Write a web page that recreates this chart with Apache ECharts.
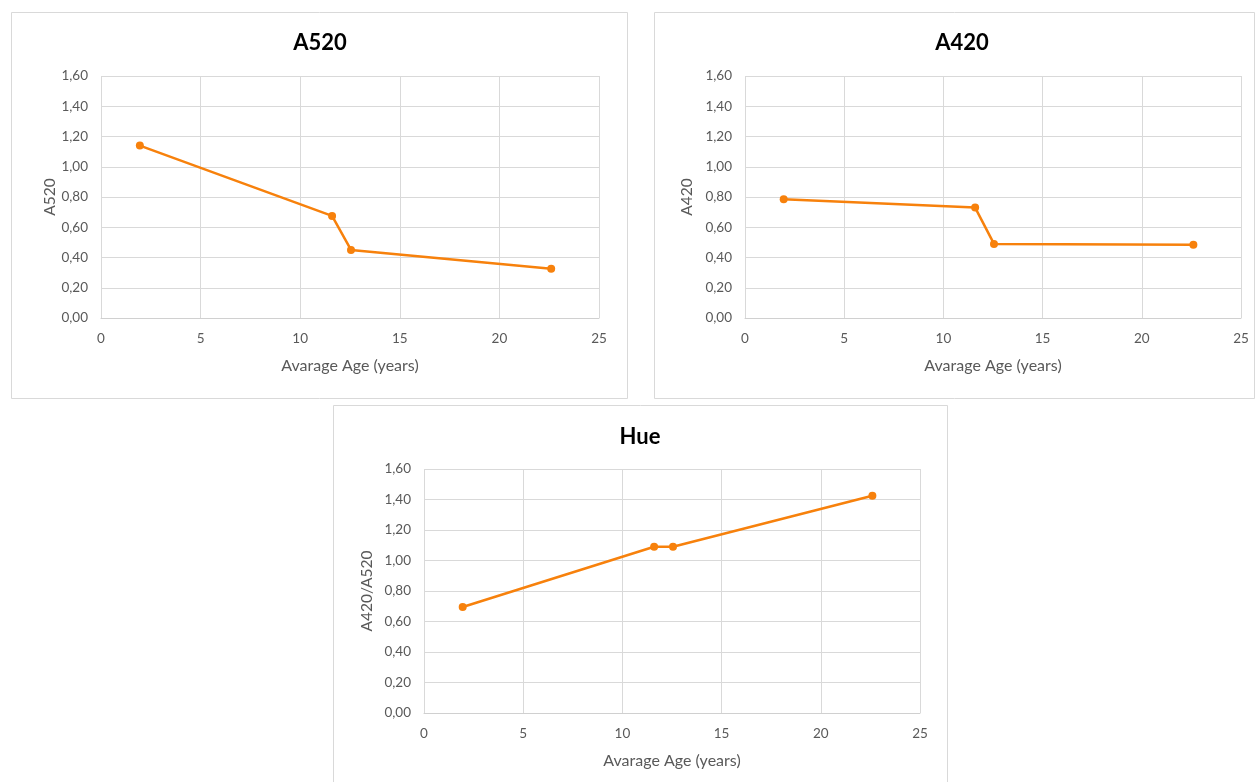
<!DOCTYPE html>
<html>
<head>
<meta charset="utf-8">
<script src="https://cdn.jsdelivr.net/npm/echarts@6/dist/echarts.min.js"></script>
<style>
html,body{margin:0;padding:0;background:#fff;}
#c{width:1256px;height:782px;}
</style>
</head>
<body>
<div id="c"></div>
<script>
// Data
const titles = ['A520', 'A420', 'Hue'];
const yNames = ['A520', 'A420', 'A420/A520'];
const xName = 'Avarage Age (years)';
const ages = [1.95, 11.6, 12.55, 22.6];
const a520 = [1.14, 0.675, 0.45, 0.325];
const a420 = [0.785, 0.73, 0.49, 0.485];
const hue = [0.695, 1.09, 1.09, 1.425];
const seriesValues = [a520, a420, hue];

const orange = '#f7810c';
const grids = [
  {left: 101, top: 76, width: 498, height: 242},
  {left: 745, top: 76, width: 496, height: 242},
  {left: 424, top: 469, width: 496, height: 244}
];
const yNameGaps = [43, 50, 49];
const titlePos = [{x: 315, y: 27}, {x: 957, y: 27}, {x: 635, y: 421}];
const boxes = [
  {x: 11.5, y: 12.5, width: 616, height: 386},
  {x: 654.5, y: 12.5, width: 600, height: 386},
  {x: 333.5, y: 405.5, width: 614, height: 390}
];
const font = 'Lato, "Open Sans", sans-serif';

const option = {
  animation: false,
  backgroundColor: '#fff',
  graphic: boxes.map(b => ({
    type: 'rect', shape: b, silent: true, z: -10,
    style: {fill: '#fff', stroke: '#d9d9d9', lineWidth: 1}
  })),
  title: titles.map((t, i) => ({
    text: t, left: titlePos[i].x, top: titlePos[i].y, textAlign: 'center',
    textStyle: {fontFamily: font, fontSize: 22, fontWeight: 'bold', color: '#000'}
  })),
  grid: grids,
  xAxis: grids.map((g, i) => ({
    type: 'value', gridIndex: i, min: 0, max: 25, interval: 5,
    name: xName, nameLocation: 'middle', nameGap: 40,
    nameTextStyle: {fontFamily: font, fontSize: 16, color: '#595959'},
    axisLine: {show: true, lineStyle: {color: '#d0d0d0', width: 1}},
    axisTick: {show: false},
    axisLabel: {fontFamily: font, fontSize: 13.5, color: '#595959', margin: 14},
    splitLine: {show: true, lineStyle: {color: '#d9d9d9', width: 1}}
  })),
  yAxis: grids.map((g, i) => ({
    type: 'value', gridIndex: i, min: 0, max: 1.6, interval: 0.2,
    name: yNames[i], nameLocation: 'middle', nameGap: yNameGaps[i], nameMoveOverlap: false,
    nameTextStyle: {fontFamily: font, fontSize: 15.5, color: '#595959'},
    axisLine: {show: false},
    axisTick: {show: false},
    axisLabel: {fontFamily: font, fontSize: 13.5, color: '#595959', margin: 13,
      formatter: v => v.toFixed(2).replace('.', ',')},
    splitLine: {show: true, lineStyle: {color: '#d9d9d9', width: 1}}
  })),
  series: seriesValues.map((vals, i) => ({
    type: 'line', xAxisIndex: i, yAxisIndex: i,
    data: ages.map((a, j) => [a, vals[j]]),
    symbol: 'circle', symbolSize: 8,
    lineStyle: {color: orange, width: 2.5},
    itemStyle: {color: orange}
  }))
};
echarts.init(document.getElementById('c')).setOption(option);
</script>
</body>
</html>
